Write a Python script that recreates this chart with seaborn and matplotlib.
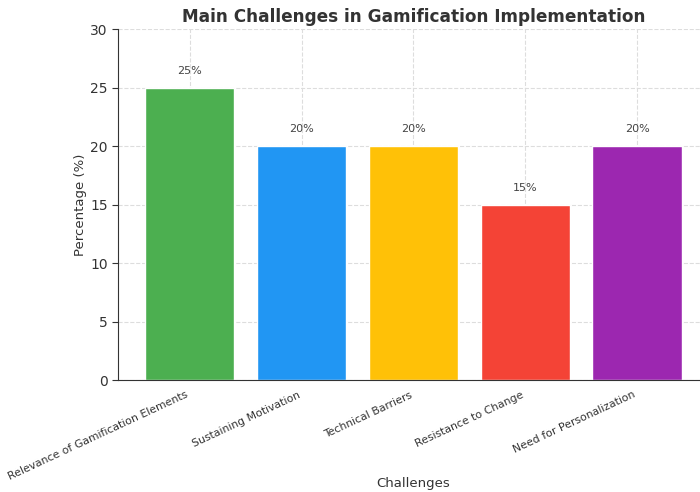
import matplotlib
matplotlib.use("Agg")
import matplotlib.pyplot as plt
import seaborn as sns
import pandas as pd

categories = ["Relevance of Gamification Elements", "Sustaining Motivation",
              "Technical Barriers", "Resistance to Change", "Need for Personalization"]
values = [25, 20, 20, 15, 20]
colors = ["#4CAF50", "#2196F3", "#FFC107", "#F44336", "#9C27B0"]

sns.set_style("whitegrid", {"grid.linestyle": "--", "grid.color": "#dddddd",
                            "axes.edgecolor": "#333333"})
plt.rcParams['font.family'] = ['DejaVu Sans']

df = pd.DataFrame({"Challenges": categories, "Percentage": values})

fig = plt.figure(figsize=(7, 4.92), dpi=100)
ax = fig.add_axes([0.1686, 0.2276, 0.844, 0.713])
sns.barplot(data=df, x="Challenges", y="Percentage", hue="Challenges",
            palette=colors, legend=False, ax=ax, width=0.8, saturation=1)
ax.set_xlim(-0.64, 4.64)
ax.set_ylim(0, 30)
ax.xaxis.grid(True, linestyle="--", color="#dddddd")
ax.yaxis.grid(True, linestyle="--", color="#dddddd")
ax.set_axisbelow(True)
for i, v in enumerate(values):
    ax.text(i, v + 1, f"{v}%", ha="center", va="bottom", fontsize=8, color="#444444")
ax.set_title("Main Challenges in Gamification Implementation", fontsize=12.2,
             fontweight="bold", color="#333333", pad=5)
ax.set_xlabel("Challenges", fontsize=9.5, color="#333333")
ax.xaxis.set_label_coords(0.5, -0.277)
ax.set_ylabel("Percentage (%)", fontsize=9.5, color="#333333", labelpad=2)
ax.set_xticks(range(len(categories)))
ax.set_xticklabels(categories, rotation=25, ha="right", fontsize=7.8, color="#333333")
ax.tick_params(axis="y", labelsize=10, colors="#333333", left=True, length=4)
ax.tick_params(axis="x", bottom=False)
sns.despine(ax=ax, right=True, top=True)
ax.spines["left"].set_color("#333333")
ax.spines["bottom"].set_color("#333333")
fig.savefig("out.png", dpi=100)
